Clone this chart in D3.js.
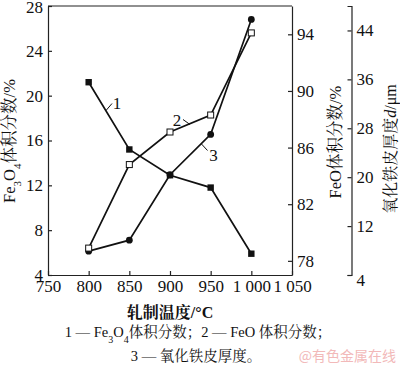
<!DOCTYPE html>
<html><head><meta charset="utf-8">
<script src="https://cdn.jsdelivr.net/npm/d3@7"></script>
<style>
body{margin:0;background:#fff;}
svg{display:block;}
text{font-family:"Liberation Serif","Times New Roman","Noto Serif CJK SC","Noto Sans CJK SC",serif;fill:#111;}
</style></head>
<body>
<svg id="c" width="400" height="369"></svg>
<script>
const temps = [800, 850, 900, 950, 1000];
const fe3o4 = [21.2, 15.2, 12.9, 11.8, 5.9];
const feo = [78.9, 84.8, 87.1, 88.3, 94.1];
const thick = [7.9, 9.7, 20.4, 27.0, 45.8];
const xTicks = [750, 800, 850, 900, 950, 1000, 1050];
const leftTicks = [4, 8, 12, 16, 20, 24, 28];
const feoTicks = [78, 82, 86, 90, 94];
const thickTicks = [4, 12, 20, 28, 36, 44];

const svg = d3.select("#c");
const L = 48, R = 292, T = 6, B = 275, R2 = 351.5;

const x = d3.scaleLinear().domain([750, 1050]).range([L, R]);
const yL = d3.scaleLinear().domain([4, 28]).range([B, T]);
const yF = d3.scaleLinear().domain([77, 96]).range([B, T]);
const yT = d3.scaleLinear().domain([4, 48]).range([B, T]);

const fmtX = d => d >= 1000 ? "1 " + String(d).slice(1) : String(d);

// frame top line
svg.append("line").attr("x1", L).attr("x2", R).attr("y1", T).attr("y2", T)
  .attr("stroke", "#222").attr("stroke-width", 1.2);

function styleAxis(g) {
  g.selectAll("path,line").attr("stroke", "#222").attr("stroke-width", 1.2);
  g.selectAll("text").style("font-size", "17px").attr("fill", "#111")
    .style("font-family", "'Liberation Serif',serif");
}

const gx = svg.append("g").attr("transform", `translate(0,${B})`)
  .call(d3.axisBottom(x).tickValues(xTicks).tickFormat(fmtX).tickSizeInner(-4).tickSizeOuter(0).tickPadding(5));
styleAxis(gx);

const gl = svg.append("g").attr("transform", `translate(${L},0)`)
  .call(d3.axisLeft(yL).tickValues(leftTicks).tickSizeInner(-4).tickSizeOuter(0).tickPadding(5));
styleAxis(gl);
gl.selectAll(".tick").filter(d => d === 28).select("text").attr("dy", "0.4em");

const gf = svg.append("g").attr("transform", `translate(${R},0)`)
  .call(d3.axisRight(yF).tickValues(feoTicks).tickSizeInner(-4).tickSizeOuter(0).tickPadding(5));
styleAxis(gf);

const gt = svg.append("g").attr("transform", `translate(${R2},0)`)
  .call(d3.axisRight(yT).tickValues(thickTicks).tickSizeInner(-4).tickSizeOuter(-4).tickPadding(5));
styleAxis(gt);
gt.selectAll(".tick").filter(d => d === 4).select("text").attr("dy", "0.62em");

// series lines
function drawLine(vals, yScale) {
  const line = d3.line().x((d, i) => x(temps[i])).y(d => yScale(d));
  svg.append("path").datum(vals).attr("d", line).attr("fill", "none")
    .attr("stroke", "#111").attr("stroke-width", 1.7);
}
drawLine(fe3o4, yL);
drawLine(feo, yF);
drawLine(thick, yT);

// markers
svg.selectAll(".m1").data(fe3o4).enter().append("rect")
  .attr("x", (d, i) => x(temps[i]) - 3.2).attr("y", d => yL(d) - 3.2)
  .attr("width", 6.4).attr("height", 6.4).attr("fill", "#111");
svg.selectAll(".m3").data(thick).enter().append("circle")
  .attr("cx", (d, i) => x(temps[i])).attr("cy", d => yT(d)).attr("r", 3.4).attr("fill", "#111");
svg.selectAll(".m2").data(feo).enter().append("rect")
  .attr("x", (d, i) => x(temps[i]) - 3).attr("y", d => yF(d) - 3)
  .attr("width", 6).attr("height", 6).attr("fill", "#fff").attr("stroke", "#111").attr("stroke-width", 1);

// curve labels with leaders
const ann = [
  {t: "1", lx1: 106, ly1: 110.5, lx2: 112, ly2: 103.5, tx: 117, ty: 109},
  {t: "2", lx1: 183, ly1: 119.5, lx2: 190, ly2: 124.5, tx: 177, ty: 126},
  {t: "3", lx1: 201.5, ly1: 144, lx2: 207.5, ly2: 150.5, tx: 213.5, ty: 161}
];
ann.forEach(a => {
  svg.append("line").attr("x1", a.lx1).attr("y1", a.ly1).attr("x2", a.lx2).attr("y2", a.ly2)
    .attr("stroke", "#111").attr("stroke-width", 1);
  svg.append("text").attr("x", a.tx).attr("y", a.ty).attr("text-anchor", "middle")
    .style("font-size", "17px").text(a.t);
});

// axis titles
const t1 = svg.append("text").attr("transform", "translate(15,141) rotate(-90)")
  .attr("text-anchor", "middle").style("font-size", "16.5px");
t1.append("tspan").text("Fe");
t1.append("tspan").text("3").attr("baseline-shift", "sub").style("font-size", "11px");
t1.append("tspan").text("O");
t1.append("tspan").text("4").attr("baseline-shift", "sub").style("font-size", "11px");
t1.append("tspan").text("体积分数/%");

svg.append("text").attr("transform", "translate(341,142) rotate(-90)")
  .attr("text-anchor", "middle").style("font-size", "16.5px").text("FeO体积分数/%");

const t3 = svg.append("text").attr("transform", "translate(396,149) rotate(-90)")
  .attr("text-anchor", "middle").style("font-size", "16px");
t3.append("tspan").text("氧化铁皮厚度");
t3.append("tspan").text("d").style("font-style", "italic");
t3.append("tspan").text("/μm");

svg.append("text").attr("x", 170).attr("y", 318).attr("text-anchor", "middle")
  .style("font-size", "16px").style("font-weight", "bold").text("轧制温度/°C");

// caption
const c1 = svg.append("text").attr("x", 198).attr("y", 337).attr("text-anchor", "middle").style("font-size", "14.5px");
c1.append("tspan").text("1 — Fe");
c1.append("tspan").text("3").attr("baseline-shift", "sub").style("font-size", "10px");
c1.append("tspan").text("O");
c1.append("tspan").text("4").attr("baseline-shift", "sub").style("font-size", "10px");
c1.append("tspan").text("体积分数；2 — FeO 体积分数；");

svg.append("text").attr("x", 196).attr("y", 361).attr("text-anchor", "middle")
  .style("font-size", "14.5px").text("3 — 氧化铁皮厚度。");

// watermark
svg.append("text").attr("x", 396).attr("y", 361).attr("text-anchor", "end")
  .style("font-size", "14px").style("font-family", "'Noto Sans CJK SC',sans-serif")
  .style("fill", "#f2b9b9").text("@有色金属在线");
</script>
</body></html>
